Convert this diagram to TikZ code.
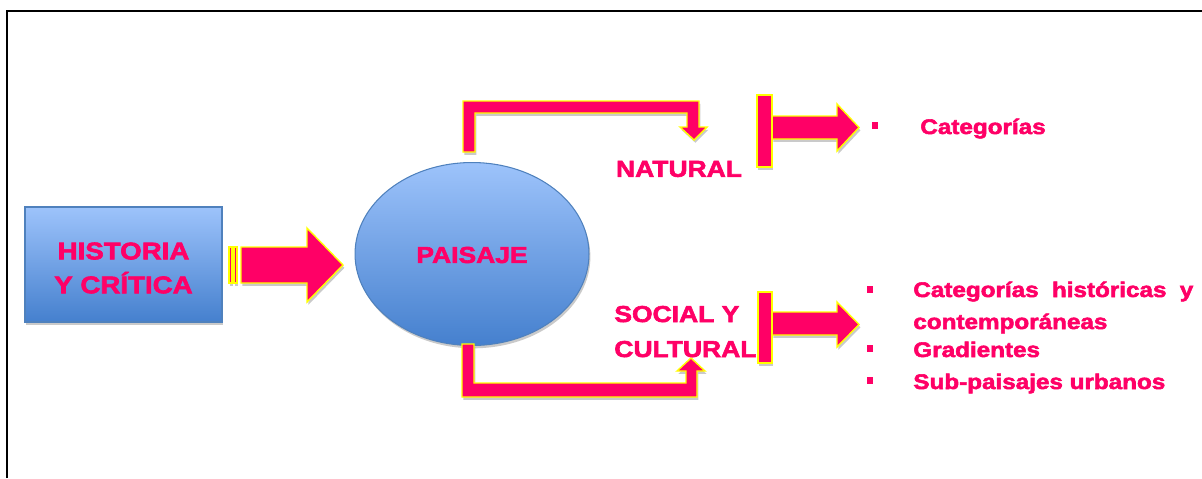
\documentclass[tikz,border=0pt]{standalone}
\usepackage{fontspec}
\setmainfont{Liberation Sans}
\newfontfamily\negra[FakeStretch=1.15,FakeBold=2.6]{Liberation Sans Bold}
\usetikzlibrary{shapes.geometric,shadows}
\definecolor{rosa}{HTML}{FF0066}
\definecolor{amarillo}{HTML}{FFFF00}
\definecolor{azulclaro}{HTML}{9DC3FB}
\definecolor{azuloscuro}{HTML}{4580CE}
\definecolor{azulborde}{HTML}{4F81BD}
\tikzset{
  sombra/.style={drop shadow={shadow xshift=0.8pt, shadow yshift=-1.6pt, opacity=0.35, fill=black!60}},
  flecha/.style={fill=rosa, draw=amarillo, line width=0.8pt, sombra},
  figura/.style={draw=azulborde, line width=0.6pt, top color=azulclaro, bottom color=azuloscuro, sombra, inner sep=0pt},
  titulo/.style={text=rosa, align=center, font=\negra\fontsize{13.1pt}{19.3pt}\selectfont},
  lista/.style={text=rosa, anchor=base west, inner sep=0pt, font=\negra\fontsize{12pt}{14pt}\selectfont},
}
\begin{document}
\begin{tikzpicture}[x=0.02cm,y=-0.02cm]
  \useasboundingbox (0,0) rectangle (1202,478);
  % marco
  \draw[line width=1.1pt] (7,478) -- (7,11) -- (1202,11);

  % figuras
  \node[figura, rectangle, minimum width=3.94cm, minimum height=2.3cm] (historia) at (123.5,264.5) {};
  \node[titulo, font=\negra\fontsize{13.7pt}{19.3pt}\selectfont] (historiatxt) at (123.5,268) {HISTORIA\\Y CRÍTICA};
  \node[figura, ellipse, minimum width=4.68cm, minimum height=3.66cm] (paisaje) at (472,254) {};
  \node[titulo] (paisajetxt) at (472,255) {PAISAJE};

  % flecha hacia paisaje
  \draw[flecha] (229,247) rectangle (232,283);
  \draw[flecha] (234,247) rectangle (237,283);
  \draw[flecha] (241,247) -- (307,247) -- (307,228) -- (343,265) -- (307,302) -- (307,283) -- (241,283) -- cycle;

  % flechas en codo
  \draw[flecha] (463,152) -- (463,101) -- (699,101) -- (699,127) -- (707,127) -- (694,140)
    -- (680,127) -- (687,127) -- (687,113) -- (475,113) -- (475,152) -- cycle;
  \draw[flecha] (462,344) -- (462,397) -- (697,397) -- (697,371) -- (705,371) -- (691,358)
    -- (677,371) -- (686,371) -- (686,383) -- (474,383) -- (474,344) -- cycle;

  % ramas
  \node[titulo] (natural) at (679,169) {NATURAL};
  \node[titulo, anchor=base west, inner sep=0pt] (social) at (614,322) {SOCIAL Y};
  \node[titulo, anchor=base west, inner sep=0pt] (cultural) at (614,357) {CULTURAL};

  % flechas en T
  \draw[flecha] (772,116) -- (837,116) -- (837,104) -- (859,127.5) -- (837,151) -- (837,139) -- (772,139) -- cycle;
  \draw[flecha] (757,95) rectangle (772,167);
  \draw[flecha] (772,312) -- (837,312) -- (837,302) -- (859,324.5) -- (837,347) -- (837,335) -- (772,335) -- cycle;
  \draw[flecha] (758,292) rectangle (772,363);

  % listas
  \fill[rosa] (872,122) rectangle (878,129);
  \node[lista] (cat) at (920,134) {Categorías};
  \fill[rosa] (867,286) rectangle (873,293);
  \node[lista] (cathist) at (913,297) {\makebox[5.6cm][s]{Categorías históricas y}};
  \node[lista] (contemp) at (913,329) {contemporáneas};
  \fill[rosa] (867,345) rectangle (873,352);
  \node[lista] (grad) at (913,357) {Gradientes};
  \fill[rosa] (867,377) rectangle (873,384);
  \node[lista] (sub) at (913,389) {Sub-paisajes urbanos};
\end{tikzpicture}
\end{document}
